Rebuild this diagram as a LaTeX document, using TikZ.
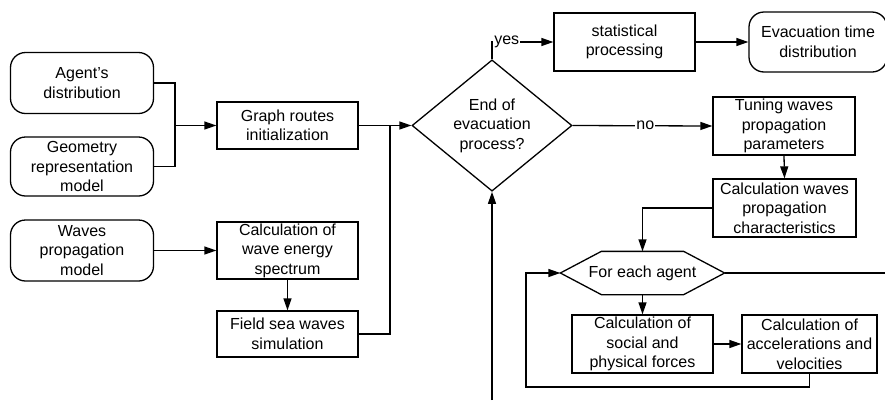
\documentclass[tikz,border=0pt]{standalone}
\usepackage{fontspec}
\setmainfont{Liberation Sans}
\usetikzlibrary{arrows.meta,shapes.geometric}
\begin{document}
\begin{tikzpicture}[x=1pt,y=-1pt,line width=1.3pt,
  every node/.style={font=\fontsize{16}{19.5}\selectfont, align=center, inner sep=0pt},
  box/.style={draw, rectangle, minimum width=#1},
  rbox/.style={draw, rectangle, rounded corners=15pt, minimum width=#1},
  arr/.style={-{Triangle[length=12pt,width=8pt]}},
  lbl/.style={fill=white, inner xsep=1pt, inner ysep=0pt}]
\useasboundingbox (0,0) rectangle (885,400);
% left column
\node[rbox=143, minimum height=61] (agent) at (82,83) {Agent’s\\distribution};
\node[rbox=143, minimum height=59] (geom) at (82,166.5) {Geometry\\representation\\model};
\node[rbox=143, minimum height=61] (waves) at (82,250.5) {Waves\\propagation\\model};
% second column
\node[box=141, minimum height=47] (graph) at (287.5,125.5) {Graph routes\\initialization};
\node[box=141, minimum height=57] (energy) at (287.5,250.5) {Calculation of\\wave energy\\spectrum};
\node[box=141, minimum height=46] (field) at (287.5,334) {Field sea waves\\simulation};
% decision
\node[draw, diamond, minimum width=160, minimum height=105] (dec) at (492,125.5) {End of\\evacuation\\process?};
% top right
\node[box=141, minimum height=58] (stat) at (624.5,42) {statistical\\processing};
\node[rbox=138, minimum height=60] (evac) at (818,42) {Evacuation time\\distribution};
% right column
\node[box=142, minimum height=58] (tune) at (784,126) {Tuning waves\\propagation\\parameters};
\node[box=143, minimum height=58] (wchar) at (784.5,208) {Calculation waves\\propagation\\characteristics};
% hexagon
\node[minimum width=163, minimum height=42] (hex) at (642.5,273) {For each agent};
\draw (hex.west) -- ([xshift=41pt]hex.north west) -- ([xshift=-41pt]hex.north east) -- (hex.east)
  -- ([xshift=-41pt]hex.south east) -- ([xshift=41pt]hex.south west) -- cycle;
\node[box=141, minimum height=58] (social) at (642.5,344) {Calculation of\\social and\\physical forces};
\node[box=135, minimum height=58] (accel) at (809.5,344) {Calculation of\\accelerations and\\velocities};
% coordinates
\coordinate (j1) at (175,125.5);
\coordinate (j2) at (390,125.5);
\coordinate (hexout) at (885,273);
\coordinate (lp) at (526,387);
\coordinate (bot) at (492,400);
% connectors
\draw (agent.east) -| (j1);
\draw (geom.east) -| (j1);
\draw[arr] (j1) -- (graph.west);
\draw[arr] (graph.east) -- (dec.west);
\draw (field.east) -| (j2);
\draw[arr] (waves.east) -- (energy.west);
\draw[arr] (energy.south) -- (field.north);
\draw[arr] (dec.north) |- node[lbl, pos=0.62] {yes} (stat.west);
\draw[arr] (stat.east) -- (evac.west);
\draw[arr] (dec.east) -- node[lbl, pos=0.52] {no} (tune.west);
\draw[arr] (tune.south) -- (wchar.north);
\draw[arr] (wchar.west) -| (hex.north);
\draw (hex.east) -- (hexout);
\draw[arr] (hex.south) -- (social.north);
\draw[arr] (social.east) -- (accel.west);
\draw[arr] (accel.south) |- (lp) |- (hex.west);
\draw[arr] (bot) -- (dec.south);
\end{tikzpicture}
\end{document}
